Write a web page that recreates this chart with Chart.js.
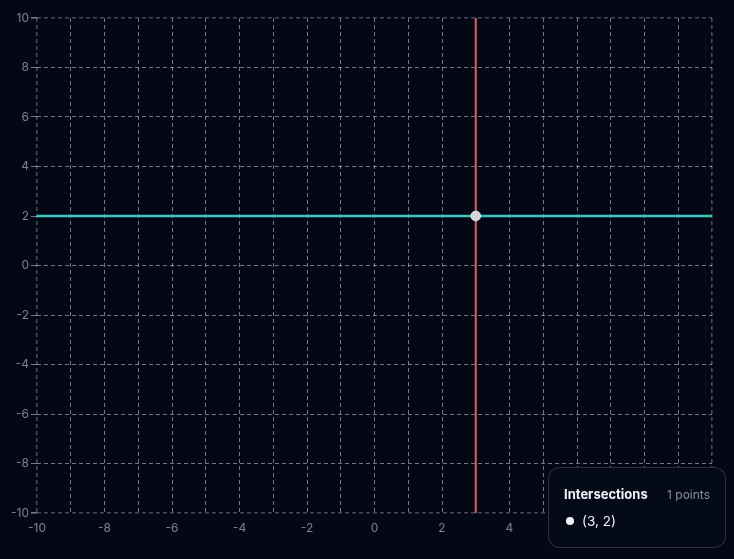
<!DOCTYPE html>
<html>
<head>
<meta charset="utf-8">
<script src="https://cdn.jsdelivr.net/npm/chart.js@4/dist/chart.umd.min.js"></script>
<style>
  html, body { margin: 0; padding: 0; background: #040816; }
  #wrap { position: relative; width: 734px; height: 559px; }
  #panel {
    position: absolute; left: 548px; top: 467px; width: 178px; height: 81px;
    box-sizing: border-box; border: 1px solid rgba(255,255,255,0.16); border-radius: 12px;
    background: #050a19; font-family: Inter, sans-serif; color: #f1f3f7;
    padding: 18px 15px 0 15px;
  }
  #panel .head { display: flex; justify-content: space-between; align-items: baseline; }
  #panel .title { font-weight: 700; font-size: 13px; }
  #panel .count { font-size: 12px; color: #8a8f9c; }
  #panel .item { margin-top: 11px; font-size: 13.5px; display: flex; align-items: center; }
  #panel .dot { width: 8px; height: 8px; border-radius: 50%; background: #f1f3f7; margin: 0 8px 0 2px; }
</style>
</head>
<body>
<div id="wrap">
  <canvas id="myChart" width="734" height="559"></canvas>
  <div id="panel">
    <div class="head"><span class="title">Intersections</span><span class="count">1 points</span></div>
    <div class="item"><span class="dot"></span><span id="pt"></span></div>
  </div>
</div>
<script>
// line y = 2
var lineX = [-10, -8, -6, -4, -2, 0, 2, 4, 6, 8, 10];
var lineY = [2, 2, 2, 2, 2, 2, 2, 2, 2, 2, 2];
// vertical line x = 3
var vertX = [3, 3];
var vertY = [-10, 10];
// intersection
var hitX = [3];
var hitY = [2];

var xMin = -10, xMax = 10, yMin = -10, yMax = 10;

function pts(xs, ys) {
  var out = [];
  for (var i = 0; i < xs.length; i++) out.push({ x: xs[i], y: ys[i] });
  return out;
}

document.getElementById('pt').textContent = '(' + hitX[0] + ', ' + hitY[0] + ')';

var gridCol = 'rgba(185,190,202,0.62)';
var edgeCol = 'rgba(110,116,130,0.6)';
var tickFont = { family: 'Inter', size: 12 };

function isEdge(c, lo, hi) {
  return c.tick && (c.tick.value === lo || c.tick.value === hi);
}

var ctx = document.getElementById('myChart').getContext('2d');
var chart = new Chart(ctx, {
  type: 'scatter',
  data: {
    datasets: [{
      data: pts(hitX, hitY),
      showLine: false,
      pointRadius: 5,
      pointBackgroundColor: '#d4d6dc',
      pointBorderColor: 'rgba(255,255,255,0.5)',
      pointBorderWidth: 1
    }, {
      data: pts(lineX, lineY),
      showLine: true,
      borderColor: '#3cc8bc',
      borderWidth: 2.5,
      pointRadius: 0
    }, {
      data: pts(vertX, vertY),
      showLine: true,
      borderColor: '#ea5a5a',
      borderWidth: 2,
      pointRadius: 0
    }]
  },
  options: {
    responsive: false,
    animation: false,
    layout: { padding: { top: 18, right: 22, left: 0, bottom: 0 } },
    plugins: { legend: { display: false }, tooltip: { enabled: false } },
    scales: {
      x: {
        type: 'linear', min: xMin, max: xMax,
        afterFit: function (s) { s.height = 46; },
        ticks: {
          stepSize: 1, color: '#7d8290', font: tickFont, padding: 2, maxRotation: 0, autoSkip: false,
          callback: function (v) { return v % 2 === 0 ? v : ''; }
        },
        grid: {
          color: function (c) { return isEdge(c, xMin, xMax) ? edgeCol : gridCol; },
          lineWidth: function (c) { return isEdge(c, xMin, xMax) ? 1.6 : 1; },
          tickColor: 'transparent', tickLength: 6
        },
        border: { display: false, dash: [4, 3] }
      },
      y: {
        type: 'linear', min: yMin, max: yMax,
        afterFit: function (s) { s.width = 37; },
        ticks: { stepSize: 2, color: '#7d8290', font: tickFont, padding: 2 },
        grid: {
          color: function (c) { return isEdge(c, yMin, yMax) ? edgeCol : gridCol; },
          lineWidth: function (c) { return isEdge(c, yMin, yMax) ? 1.6 : 1; },
          tickColor: gridCol, tickLength: 6
        },
        border: { display: false, dash: [4, 3] }
      }
    }
  }
});
</script>
</body>
</html>
